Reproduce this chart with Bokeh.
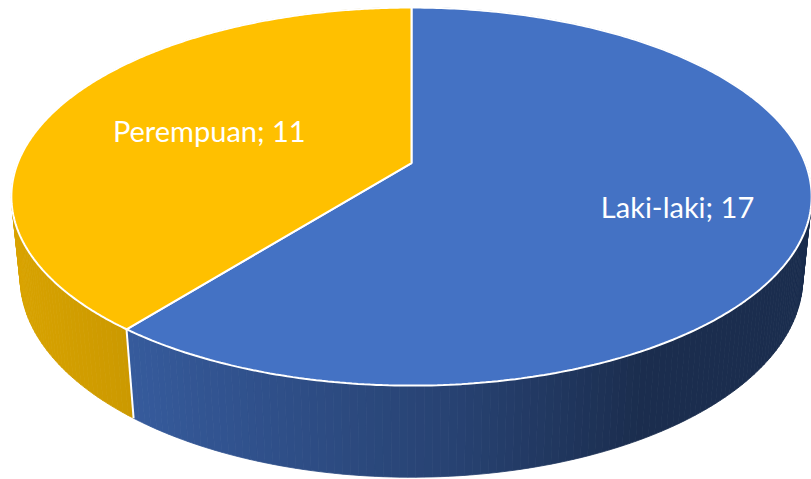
import numpy as np
from bokeh.plotting import figure
from bokeh.models import Range1d
from bokeh.embed import file_html
from bokeh.resources import INLINE
from bokeh.core.properties import value

# ---- data ----
categories = ["Laki-laki", "Perempuan"]
values = [17, 11]
top_colors = ["#4472C4", "#FFC000"]
label_radius = [0.687, 0.562]

# ---- 3D projection settings (style) ----
SIN_E = 0.465
COS_E = float(np.sqrt(1 - SIN_E ** 2))
DIST = 5.0
THICK = 0.236
SCALE = 393.8
CX, CY = 411.0, 162.6


def project(u, v, z):
    u = np.asarray(u, dtype=float)
    v = np.asarray(v, dtype=float)
    z = np.asarray(z, dtype=float)
    depth = v * COS_E - z * SIN_E
    s = DIST / (DIST + depth)
    X = u * s
    Y = (v * SIN_E + z * COS_E) * s
    return CX + SCALE * X, CY - SCALE * Y


def hex_to_rgb(h):
    h = h.lstrip("#")
    return tuple(int(h[i:i + 2], 16) for i in (0, 2, 4))


def shade(hexcol, c):
    f = float(np.interp(c, [-1.0, -0.62, 0.1, 0.5, 1.0], [0.86, 0.80, 0.58, 0.40, 0.40]))
    r, g, b = hex_to_rgb(hexcol)
    return "#%02x%02x%02x" % (int(r * f), int(g * f), int(b * f))


total = float(sum(values))
starts, ends = [], []
acc = 0.0
for v in values:
    a0 = np.pi / 2 - 2 * np.pi * acc / total
    a1 = a0 - 2 * np.pi * v / total
    starts.append(a0)
    ends.append(a1)
    acc += v

p = figure(width=811, height=479, x_range=Range1d(0, 811), y_range=Range1d(479, 0),
           output_backend="svg", toolbar_location=None, min_border=0)
p.axis.visible = False
p.grid.visible = False
p.outline_line_color = None
p.background_fill_color = "white"
p.border_fill_color = "white"

# ---- side wall quads ----
quads = []
for i in range(len(values)):
    a0, a1 = starts[i], ends[i]
    n = max(2, int(abs(a1 - a0) / np.radians(1.0)))
    angs = np.linspace(a0, a1, n + 1)
    for k in range(n):
        t0, t1 = angs[k], angs[k + 1]
        tm = 0.5 * (t0 + t1)
        uu = [np.cos(t0), np.cos(t1), np.cos(t1), np.cos(t0)]
        vv = [np.sin(t0), np.sin(t1), np.sin(t1), np.sin(t0)]
        zz = [0, 0, -THICK, -THICK]
        px, py = project(uu, vv, zz)
        quads.append((np.sin(tm), list(px), list(py), shade(top_colors[i], np.cos(tm))))
quads.sort(key=lambda q: -q[0])
p.patches(xs=[q[1] for q in quads], ys=[q[2] for q in quads],
          fill_color=[q[3] for q in quads], line_color=[q[3] for q in quads], line_width=0.8)

# ---- white seams on the side ----
for a in starts:
    if np.sin(a) < -0.2:
        px, py = project([np.cos(a)] * 2, [np.sin(a)] * 2, [0, -THICK])
        p.line(list(px), list(py), line_color="white", line_width=2)

# ---- top faces ----
xs, ys = [], []
for i in range(len(values)):
    angs = np.linspace(starts[i], ends[i], 300)
    uu = np.concatenate([[0.0], np.cos(angs)])
    vv = np.concatenate([[0.0], np.sin(angs)])
    px, py = project(uu, vv, np.zeros_like(uu))
    xs.append(list(px))
    ys.append(list(py))
p.patches(xs=xs, ys=ys, fill_color=top_colors, line_color="white", line_width=2)

# ---- labels ----
lx, ly, lt = [], [], []
for i in range(len(values)):
    mid = 0.5 * (starts[i] + ends[i])
    r = label_radius[i]
    px, py = project([r * np.cos(mid)], [r * np.sin(mid)], [0.0])
    lx.append(float(px[0]))
    ly.append(float(py[0]))
    lt.append(f"{categories[i]}; {values[i]}")
p.text(x=lx, y=ly, text=lt, text_color="white", text_font=value("Lato"),
       text_font_size="29px", text_align="center", text_baseline="middle")

open("out.html", "w").write(file_html(p, INLINE))
